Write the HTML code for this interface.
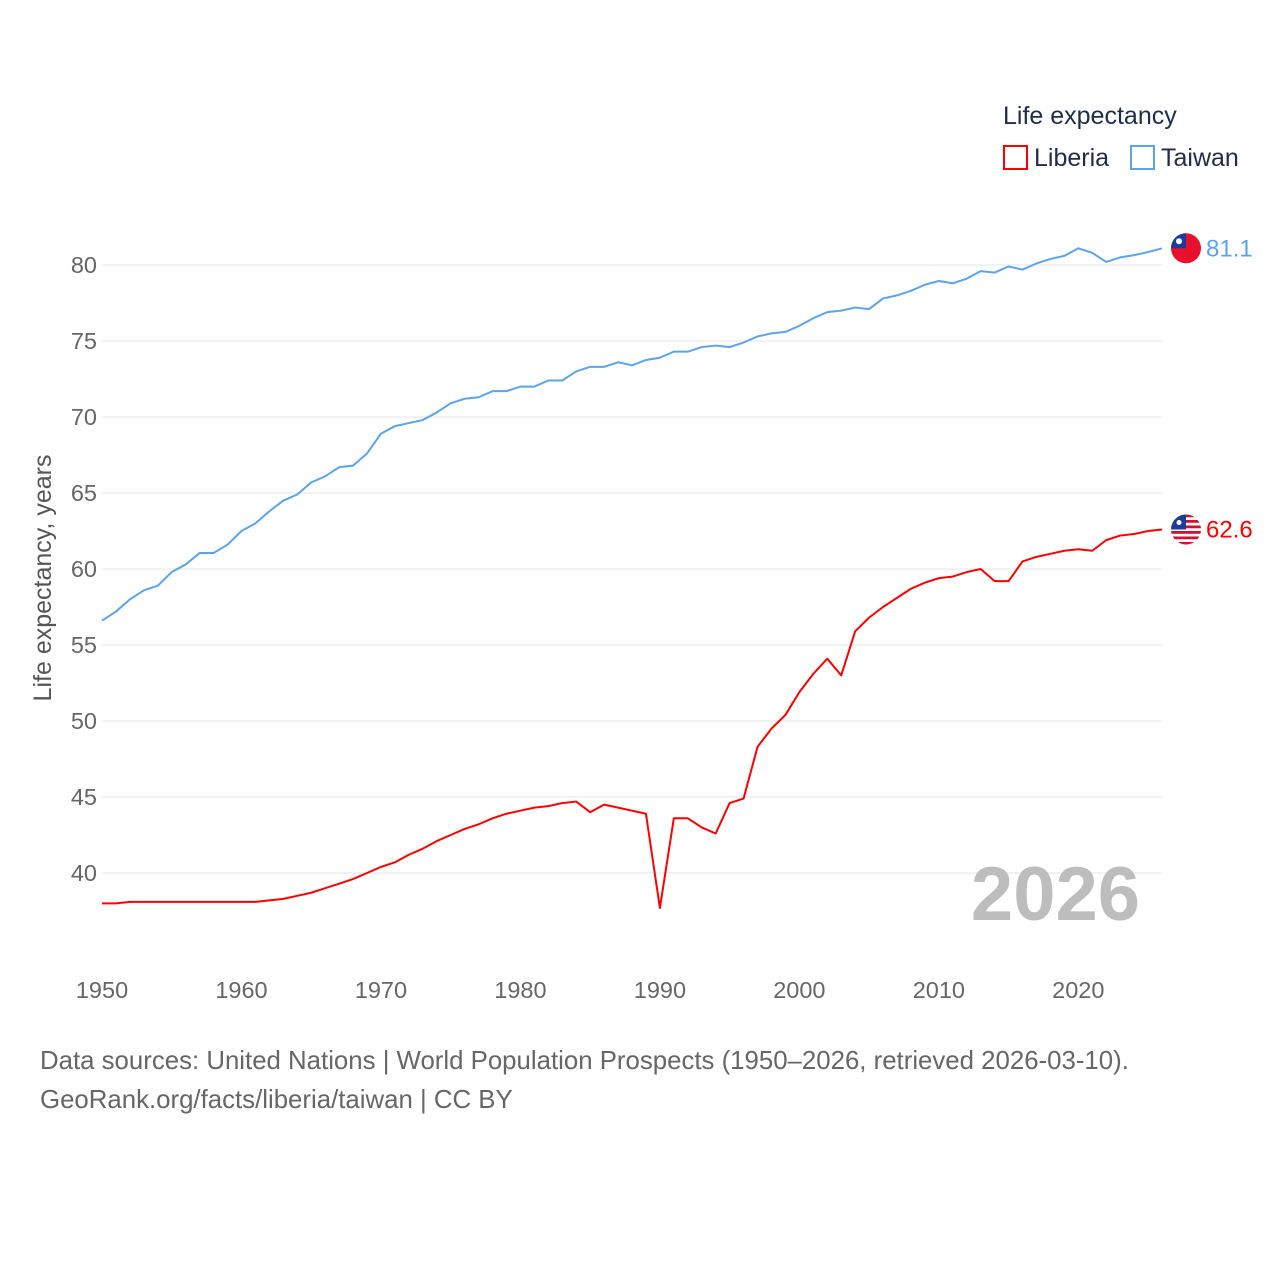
<!DOCTYPE html>
<html><head><meta charset="utf-8"><style>
body{margin:0;background:#fff;font-family:"Liberation Sans",sans-serif}
</style></head><body>
<svg id="chart" width="1280" height="1280" xmlns="http://www.w3.org/2000/svg" font-family="Liberation Sans, sans-serif">
<defs><clipPath id="lclip"><circle id="lclipc" cx="1186" cy="530" r="15"/></clipPath></defs>
<rect width="1280" height="1280" fill="#fff"/>
<g id="grid"></g>
<g id="yticks"></g>
<g id="xticks"></g>
<text transform="translate(51,578) rotate(-90)" text-anchor="middle" font-size="25" fill="#555">Life expectancy, years</text>
<text x="1140" y="920" text-anchor="end" font-size="76" font-weight="bold" fill="#bdbdbd">2026</text>
<g id="series"></g>
<text x="1003" y="124" font-size="25" fill="#1d2d4a">Life expectancy</text>
<rect x="1004" y="146" width="23" height="23" fill="none" stroke="#ff0000" stroke-width="2"/>
<text x="1034" y="166" font-size="25" fill="#1d2d4a">Liberia</text>
<rect x="1131" y="146" width="23" height="23" fill="none" stroke="#5ba3ec" stroke-width="2"/>
<text x="1161" y="166" font-size="25" fill="#1d2d4a">Taiwan</text>
<text x="40" y="1069" font-size="25.8" fill="#666">Data sources: United Nations | World Population Prospects (1950–2026, retrieved 2026-03-10).</text>
<text x="40" y="1108" font-size="25.8" fill="#666">GeoRank.org/facts/liberia/taiwan | CC BY</text>
</svg>
<script>
const years = [];
for (let y = 1950; y <= 2026; y++) years.push(y);
const taiwan = [56.6,57.2,58.0,58.6,58.9,59.8,60.3,61.05,61.05,61.6,62.5,63.0,63.8,64.5,64.9,65.7,66.1,66.7,66.8,67.6,68.9,69.4,69.6,69.8,70.3,70.9,71.2,71.3,71.7,71.7,72.0,72.0,72.4,72.4,73.0,73.3,73.3,73.6,73.4,73.75,73.9,74.3,74.3,74.6,74.7,74.6,74.9,75.3,75.5,75.6,76.0,76.5,76.9,77.0,77.2,77.1,77.8,78.0,78.3,78.7,78.95,78.8,79.1,79.6,79.5,79.9,79.7,80.1,80.4,80.6,81.1,80.8,80.2,80.5,80.65,80.85,81.1];
const liberia = [38.0,38.0,38.1,38.1,38.1,38.1,38.1,38.1,38.1,38.1,38.1,38.1,38.2,38.3,38.5,38.7,39.0,39.3,39.6,40.0,40.4,40.7,41.2,41.6,42.1,42.5,42.9,43.2,43.6,43.9,44.1,44.3,44.4,44.6,44.7,44.0,44.5,44.3,44.1,43.9,37.7,43.6,43.6,43.0,42.6,44.6,44.9,48.3,49.5,50.4,51.9,53.1,54.1,53.0,55.9,56.8,57.5,58.1,58.7,59.1,59.4,59.5,59.8,60.0,59.2,59.2,60.5,60.8,61.0,61.2,61.3,61.2,61.9,62.2,62.3,62.5,62.6];
const yTicks = [40,45,50,55,60,65,70,75,80];
const xTicks = [1950,1960,1970,1980,1990,2000,2010,2020];
const NS = "http://www.w3.org/2000/svg";
const X = y => 102 + (y - 1950) * (1162 - 102) / 76;
const Y = v => 265 + (80 - v) * 15.2;
function mk(tag, attrs, parent, txt){const e=document.createElementNS(NS,tag);for(const k in attrs)e.setAttribute(k,attrs[k]);if(txt!==undefined)e.textContent=txt;parent.appendChild(e);return e;}
const grid=document.getElementById('grid'), yt=document.getElementById('yticks'), xt=document.getElementById('xticks'), ser=document.getElementById('series');
yTicks.forEach(v=>{
  const l=mk('line',{x1:102,x2:1162,y1:Y(v),y2:Y(v),stroke:'#e6e6e6','stroke-width':1},grid);
  
  
  const t=mk('text',{x:97,y:Y(v)+8,'text-anchor':'end','font-size':23.5,fill:'#666'},yt,String(v));
  
  
});
xTicks.forEach(v=>{
  const t=mk('text',{x:X(v),y:998,'text-anchor':'middle','font-size':23.5,fill:'#666'},xt,String(v));
  
  
});
function line(vals,color,name){
  const p=mk('polyline',{points:vals.map((v,i)=>X(years[i])+','+Y(v)).join(' '),fill:'none',stroke:color,'stroke-width':2,'stroke-linejoin':'round'},ser);
  
  
}
line(taiwan,'#5ba3ec','taiwan-line');
line(liberia,'#ff0000','liberia-line');
const tv=taiwan[taiwan.length-1], lv=liberia[liberia.length-1];
const tf=mk('g',{},ser);


mk('circle',{cx:1186,cy:Y(tv),r:15,fill:'#e8112d'},tf);
mk('path',{d:`M1171 ${Y(tv)} A15 15 0 0 1 1186 ${Y(tv)-15} L1186 ${Y(tv)} Z`,fill:'#1a3c9c'},tf);
mk('circle',{cx:1179,cy:Y(tv)-7,r:3,fill:'#fff'},tf);
const tl=mk('text',{x:1206,y:Y(tv)+8,'font-size':24,fill:'#5ba3ec'},ser,tv.toFixed(1));


document.getElementById('lclipc').setAttribute('cy',Y(lv));
const lf=mk('g',{'clip-path':'url(#lclip)'},ser);


mk('rect',{x:1171,y:Y(lv)-15,width:30,height:30,fill:'#fff'},lf);
for(let i=0;i<6;i++) mk('rect',{x:1171,y:Y(lv)-15+i*5.5,width:30,height:2.8,fill:'#d21034'},lf);
mk('rect',{x:1171,y:Y(lv)-15,width:15,height:15,fill:'#1a3c9c'},lf);
mk('circle',{cx:1179,cy:Y(lv)-7,r:2.5,fill:'#fff'},lf);
const ll=mk('text',{x:1206,y:Y(lv)+8,'font-size':24,fill:'#ff0000'},ser,lv.toFixed(1));


</script>
</body></html>
